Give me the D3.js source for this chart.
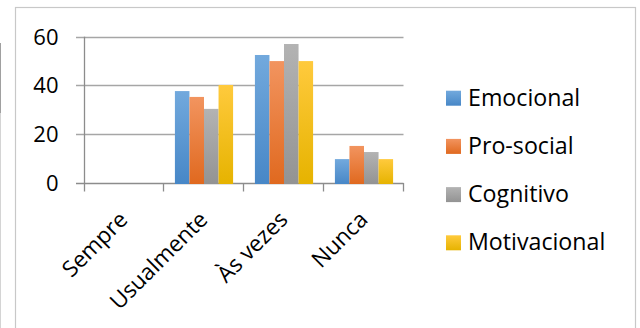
<!DOCTYPE html>
<html><head><meta charset="utf-8">
<script src="https://cdn.jsdelivr.net/npm/d3@7"></script>
<style>html,body{margin:0;padding:0;background:#fff;}svg{display:block;}</style>
</head><body>
<svg id="c" width="640" height="328"></svg>
<script>
const categories = ["Sempre", "Usualmente", "Às vezes", "Nunca"];
const seriesNames = ["Emocional", "Pro-social", "Cognitivo", "Motivacional"];
const emocional = [0, 37.7, 52.5, 9.8];
const proSocial = [0, 35.3, 50.0, 15.2];
const cognitivo = [0, 30.4, 57.0, 12.7];
const motivacional = [0, 40.2, 50.0, 9.8];
const yTicks = [0, 20, 40, 60];

const seriesValues = [emocional, proSocial, cognitivo, motivacional];
const colorsTop = ["#72a9dd", "#f2945f", "#b3b3b3", "#ffca3d"];
const colorsBot = ["#4787c7", "#e0691f", "#939393", "#e6b300"];

const svg = d3.select("#c");
const FONT = "'Open Sans', sans-serif";

// outer border & stray line
svg.append("rect").attr("x", 15.5).attr("y", 7.5).attr("width", 620).attr("height", 340)
  .attr("fill", "none").attr("stroke", "#c8c8c8").attr("stroke-width", 1.2);
svg.append("line").attr("x1", 0.5).attr("x2", 0.5).attr("y1", 43).attr("y2", 113).attr("stroke", "#a0a0a0");
svg.append("line").attr("x1", 0.5).attr("x2", 0.5).attr("y1", 113).attr("y2", 328).attr("stroke", "#d4d4d4");

const defs = svg.append("defs");
seriesNames.forEach((s, i) => {
  const g = defs.append("linearGradient").attr("id", "g" + i).attr("x1", 0).attr("x2", 0).attr("y1", 0).attr("y2", 1);
  g.append("stop").attr("offset", "0%").attr("stop-color", colorsTop[i]);
  g.append("stop").attr("offset", "100%").attr("stop-color", colorsBot[i]);
});

const x0 = d3.scaleBand().domain(categories).range([84, 404]).padding(0);
const x1 = d3.scaleBand().domain(seriesNames).range([0, x0.bandwidth()]).paddingInner(0).paddingOuter(0.75);
const y = d3.scaleLinear().domain([0, 60]).range([183, 36.7]);

// gridlines
svg.append("g").selectAll("line").data(yTicks).join("line")
  .attr("x1", 76).attr("x2", 403.5)
  .attr("y1", d => Math.round(y(d)) + 0.5).attr("y2", d => Math.round(y(d)) + 0.5)
  .attr("stroke", d => d === 0 ? "#8c8c8c" : "#a6a6a6").attr("stroke-width", 1.3);

// y axis line
svg.append("line").attr("x1", 84.5).attr("x2", 84.5).attr("y1", y(60)).attr("y2", 191.5)
  .attr("stroke", "#8c8c8c").attr("stroke-width", 1.3);
// x ticks
const bounds = categories.map(c => x0(c)).concat([404]);
svg.append("g").selectAll("line").data(bounds.slice(1)).join("line")
  .attr("x1", d => Math.round(d) - 0.5).attr("x2", d => Math.round(d) - 0.5)
  .attr("y1", 183).attr("y2", 191.5).attr("stroke", "#8c8c8c").attr("stroke-width", 1.3);

// y labels
svg.append("g").selectAll("text").data(yTicks).join("text")
  .attr("x", 58.5).attr("y", d => y(d) + 8)
  .attr("text-anchor", "end").attr("font-family", FONT).attr("font-size", 22).attr("fill", "#000")
  .text(d => d);

// bars
const groups = svg.append("g").selectAll("g").data(categories).join("g")
  .attr("transform", c => `translate(${x0(c)},0)`);
groups.selectAll("rect").data((c, ci) => seriesNames.map((s, si) => ({ s, si, v: seriesValues[si][ci] })))
  .join("rect")
  .attr("x", d => x1(d.s)).attr("width", x1.bandwidth())
  .attr("y", d => y(d.v)).attr("height", d => y(0) - y(d.v) + (d.v > 0 ? 1 : 0))
  .attr("fill", d => `url(#g${d.si})`);

// x labels
svg.append("g").selectAll("text").data(categories).join("text")
  .attr("transform", c => `translate(${x0(c) + x0.bandwidth() / 2 + 5},221) rotate(-45)`)
  .attr("text-anchor", "end").attr("font-family", FONT).attr("font-size", 22.5).attr("fill", "#000")
  .text(c => c);

// legend
const leg = svg.append("g").selectAll("g").data(seriesNames).join("g")
  .attr("transform", (s, i) => `translate(446,${105.7 + i * 48.2})`);
leg.append("rect").attr("x", 0).attr("y", -15).attr("width", 15).attr("height", 15)
  .attr("fill", (s, i) => `url(#g${i})`);
leg.append("text").attr("x", 22).attr("y", 0)
  .attr("font-family", FONT).attr("font-size", 23.2).attr("fill", "#000")
  .text(s => s);
</script>
</body></html>
